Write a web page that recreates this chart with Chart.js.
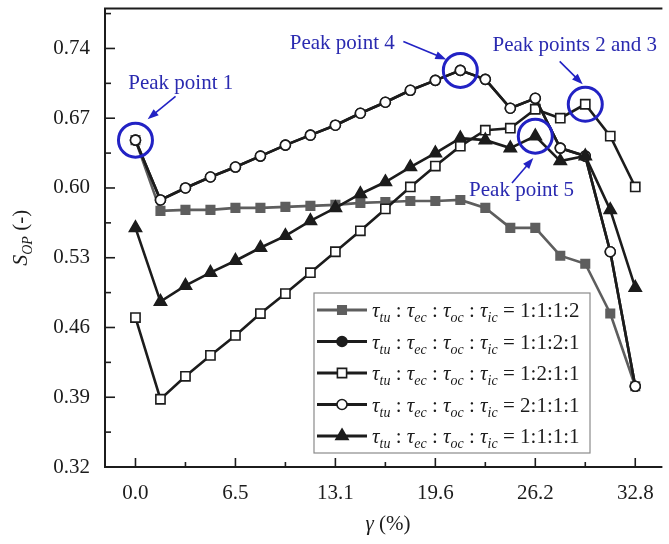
<!DOCTYPE html>
<html>
<head>
<meta charset="utf-8">
<script src="https://cdn.jsdelivr.net/npm/chart.js@4"></script>
<style>
html, body { margin: 0; padding: 0; background: #fff; }
#wrap { position: relative; width: 669px; height: 544px; }
</style>
</head>
<body>
<div id="wrap"><canvas id="chart"></canvas></div>
<script>
// γ (%) values on the x axis
const gamma = [0, 1.64, 3.28, 4.92, 6.56, 8.2, 9.84, 11.48, 13.12, 14.76, 16.4,
               18.04, 19.68, 21.32, 22.96, 24.6, 26.24, 27.88, 29.52, 31.16, 32.8];

// S_OP for each ratio τtu : τec : τoc : τic
const ratios = ['1:1:1:2', '1:1:2:1', '1:2:1:1', '2:1:1:1', '1:1:1:1'];
const sop1112 = [0.648, 0.577, 0.578, 0.578, 0.580, 0.580, 0.581, 0.582, 0.583, 0.585, 0.586,
                 0.587, 0.587, 0.588, 0.580, 0.560, 0.560, 0.532, 0.524, 0.474, 0.401];
const sop1121 = [0.648, 0.588, 0.600, 0.611, 0.621, 0.632, 0.643, 0.653, 0.663, 0.675, 0.686,
                 0.698, 0.708, 0.718, 0.709, 0.680, 0.690, 0.640, 0.632, 0.536, 0.401];
const sop1211 = [0.470, 0.388, 0.411, 0.432, 0.452, 0.474, 0.494, 0.515, 0.536, 0.557, 0.579,
                 0.601, 0.622, 0.642, 0.658, 0.660, 0.679, 0.670, 0.684, 0.652, 0.601];
const sop2111 = [0.648, 0.588, 0.600, 0.611, 0.621, 0.632, 0.643, 0.653, 0.663, 0.675, 0.686,
                 0.698, 0.708, 0.718, 0.709, 0.680, 0.690, 0.640, 0.632, 0.536, 0.401];
const sop1111 = [0.560, 0.486, 0.502, 0.515, 0.527, 0.540, 0.552, 0.567, 0.580, 0.594, 0.606,
                 0.621, 0.635, 0.650, 0.648, 0.640, 0.652, 0.627, 0.632, 0.578, 0.500];

const xTicks = [0, 6.56, 13.12, 19.68, 26.24, 32.8];
const xTickLabels = ['0.0', '6.5', '13.1', '19.6', '26.2', '32.8'];
const yTicks = [0.32, 0.39, 0.46, 0.53, 0.60, 0.67, 0.74];
const yTickLabels = ['0.32', '0.39', '0.46', '0.53', '0.60', '0.67', '0.74'];

const SERIF = "'Liberation Serif', 'DejaVu Serif', serif";
const INK = '#1c1c1c';
const BLUE = '#2222c4';

const toXY = (ys) => ys.map((v, i) => ({ x: gamma[i], y: v }));

// drawing style per series (bottom to top)
const series = [
    { data: sop1112, color: '#5e5e5e', style: 'rect', fill: '#5e5e5e', r: 6, order: 5 },
    { data: sop1121, color: INK, style: 'circle', fill: INK, r: 5, order: 4 },
    { data: sop1211, color: INK, style: 'rect', fill: '#fff', r: 6.5, order: 3 },
    { data: sop2111, color: INK, style: 'circle', fill: '#fff', r: 5, order: 2 },
    { data: sop1111, color: INK, style: 'triangle', fill: INK, r: 7, order: 1 },
];

// peak annotations: which series' maximum, label and where it sits (data units)
const peaks = [
    { series: [0], text: 'Peak point 1', at: [2.97, 0.705], from: [2.63, 0.692], to: [0.80, 0.669] },
    { series: [3], text: 'Peak point 4', at: [13.57, 0.745], from: [17.58, 0.747], to: [20.4, 0.729] },
    { series: [2], text: 'Peak points 2 and 3', at: [28.83, 0.743], from: [27.84, 0.727], to: [29.35, 0.704] },
    { series: [4], text: 'Peak point 5', at: [25.34, 0.597], from: [24.71, 0.605], to: [26.11, 0.630] },
];

function marker(ctx, style, x, y, r) {
    ctx.beginPath();
    if (style === 'circle') {
        ctx.arc(x, y, r, 0, Math.PI * 2);
    } else if (style === 'rect') {
        const s = r * Math.SQRT1_2;
        ctx.rect(x - s, y - s, 2 * s, 2 * s);
    } else {
        for (let k = 0; k < 3; k++) {
            const a = k * 2 * Math.PI / 3;
            ctx[k ? 'lineTo' : 'moveTo'](x + Math.sin(a) * r, y - Math.cos(a) * r);
        }
        ctx.closePath();
    }
    ctx.fill();
    ctx.stroke();
}

// text made of pieces (italic letters, subscripts); align 'left' or 'center'
function rich(ctx, parts, x, y, align) {
    let w = 0;
    parts.forEach(p => { ctx.font = p[1]; p.w = ctx.measureText(p[0]).width; w += p.w; });
    let xx = align === 'center' ? x - w / 2 : x;
    parts.forEach(p => { ctx.font = p[1]; ctx.fillText(p[0], xx, y + (p[2] || 0)); xx += p.w; });
}

const it = `italic 21px ${SERIF}`, sub = `italic 14px ${SERIF}`, rm = `21px ${SERIF}`;
const tauParts = (ratio) => [
    ['τ', it], ['tu', sub, 5], [' : ', rm],
    ['τ', it], ['ec', sub, 5], [' : ', rm],
    ['τ', it], ['oc', sub, 5], [' : ', rm],
    ['τ', it], ['ic', sub, 5], [' = ' + ratio, rm],
];

const decor = {
    id: 'decor',
    afterDatasetsDraw(chart) {
        const { ctx, chartArea: a, scales: { x, y } } = chart;
        ctx.save();

        // frame
        ctx.strokeStyle = INK;
        ctx.lineWidth = 2;
        ctx.beginPath();
        ctx.moveTo(a.right + 2, a.top);
        ctx.lineTo(a.left, a.top);
        ctx.lineTo(a.left, a.bottom);
        ctx.lineTo(a.right + 2, a.bottom);
        ctx.stroke();

        // inward ticks, major and minor
        ctx.lineWidth = 1.6;
        const seg = (x1, y1, x2, y2) => { ctx.beginPath(); ctx.moveTo(x1, y1); ctx.lineTo(x2, y2); ctx.stroke(); };
        xTicks.forEach((v, i) => {
            const px = x.getPixelForValue(v);
            seg(px, a.bottom, px, a.bottom - 9);
            if (i < xTicks.length - 1) {
                const pm = x.getPixelForValue((v + xTicks[i + 1]) / 2);
                seg(pm, a.bottom, pm, a.bottom - 5);
            }
        });
        yTicks.forEach((v, i) => {
            const py = y.getPixelForValue(v);
            seg(a.left, py, a.left + 10, py);
            const pm = y.getPixelForValue(v + 0.035);
            if (pm > a.top) seg(a.left, pm, a.left + 6, pm);
        });

        // peak circles, arrows and labels
        ctx.lineWidth = 3;
        ctx.strokeStyle = BLUE;
        peaks.forEach(p => {
            const d = series[p.series[0]].data;
            const k = d.indexOf(Math.max(...d));
            ctx.beginPath();
            ctx.arc(x.getPixelForValue(gamma[k]), y.getPixelForValue(d[k]), 17, 0, Math.PI * 2);
            ctx.stroke();
        });
        ctx.lineWidth = 1.6;
        ctx.fillStyle = BLUE;
        peaks.forEach(p => {
            const x1 = x.getPixelForValue(p.from[0]), y1 = y.getPixelForValue(p.from[1]);
            const x2 = x.getPixelForValue(p.to[0]), y2 = y.getPixelForValue(p.to[1]);
            const ang = Math.atan2(y2 - y1, x2 - x1);
            seg(x1, y1, x2 - Math.cos(ang) * 8, y2 - Math.sin(ang) * 8);
            ctx.beginPath();
            ctx.moveTo(x2, y2);
            ctx.lineTo(x2 - Math.cos(ang) * 11 + Math.sin(ang) * 4, y2 - Math.sin(ang) * 11 - Math.cos(ang) * 4);
            ctx.lineTo(x2 - Math.cos(ang) * 11 - Math.sin(ang) * 4, y2 - Math.sin(ang) * 11 + Math.cos(ang) * 4);
            ctx.closePath();
            ctx.fill();
        });
        ctx.fillStyle = '#2a2ab0';
        ctx.font = `21px ${SERIF}`;
        ctx.textAlign = 'center';
        ctx.textBaseline = 'middle';
        peaks.forEach(p => {
            ctx.fillText(p.text, x.getPixelForValue(p.at[0]), y.getPixelForValue(p.at[1]));
        });
        ctx.restore();
    },
    afterDraw(chart) {
        const { ctx, chartArea: a } = chart;
        ctx.save();

        // legend box
        const bx = 314, by = 293, bw = 276, bh = 160;
        ctx.fillStyle = '#fff';
        ctx.fillRect(bx, by, bw, bh);
        ctx.strokeStyle = '#8a8a8a';
        ctx.lineWidth = 1.2;
        ctx.strokeRect(bx, by, bw, bh);
        ratios.forEach((r, i) => {
            const s = series[i];
            const cy = 310 + i * 31.5;
            ctx.strokeStyle = s.color;
            ctx.lineWidth = 3;
            ctx.beginPath(); ctx.moveTo(317, cy); ctx.lineTo(367, cy); ctx.stroke();
            ctx.lineWidth = 1.6;
            ctx.fillStyle = s.fill;
            marker(ctx, s.style, 342, cy, s.r);
            ctx.fillStyle = INK;
            ctx.textAlign = 'left';
            ctx.textBaseline = 'alphabetic';
            rich(ctx, tauParts(r), 372, cy + 7, 'left');
        });

        // axis titles
        ctx.fillStyle = INK;
        rich(ctx, [['γ', it], [' (%)', rm]], (a.left + 669) / 2 + 1, 530, 'center');
        ctx.translate(27, (a.top + a.bottom) / 2);
        ctx.rotate(-Math.PI / 2);
        rich(ctx, [['S', `italic 22px ${SERIF}`], ['OP', sub, 5], [' (-)', rm]], 0, 0, 'center');
        ctx.restore();
    }
};

new Chart(document.getElementById('chart'), {
    type: 'line',
    data: {
        datasets: series.map((s, i) => ({
            label: ratios[i],
            data: toXY(s.data),
            order: s.order,
            borderColor: s.color,
            borderWidth: 2.6,
            tension: 0,
            pointStyle: s.style,
            pointRadius: s.r,
            pointHoverRadius: s.r,
            pointBorderWidth: 1.6,
            pointBorderColor: s.color,
            pointBackgroundColor: s.fill,
        }))
    },
    options: {
        responsive: true,
        maintainAspectRatio: false,
        animation: false,
        layout: { padding: { top: 7, right: 0, left: 0, bottom: 0 } },
        plugins: { legend: { display: false }, tooltip: { enabled: false } },
        scales: {
            x: {
                type: 'linear', min: -2, max: 34.45,
                afterBuildTicks: (s) => { s.ticks = xTicks.map(v => ({ value: v })); },
                afterFit: (s) => { s.height = 77; s.paddingLeft = 0; s.paddingRight = 0; },
                grid: { display: false }, border: { display: false },
                ticks: {
                    autoSkip: false, maxRotation: 0, padding: 6,
                    color: INK, font: { family: SERIF, size: 21 },
                    callback: (v, i) => xTickLabels[i]
                }
            },
            y: {
                min: 0.32, max: 0.78,
                afterBuildTicks: (s) => { s.ticks = yTicks.map(v => ({ value: v })); },
                afterFit: (s) => { s.width = 105; s.paddingTop = 0; s.paddingBottom = 0; },
                grid: { display: false }, border: { display: false },
                ticks: {
                    padding: 7,
                    color: INK, font: { family: SERIF, size: 21 },
                    callback: (v, i) => yTickLabels[i]
                }
            }
        }
    },
    plugins: [decor]
});
</script>
</body>
</html>
